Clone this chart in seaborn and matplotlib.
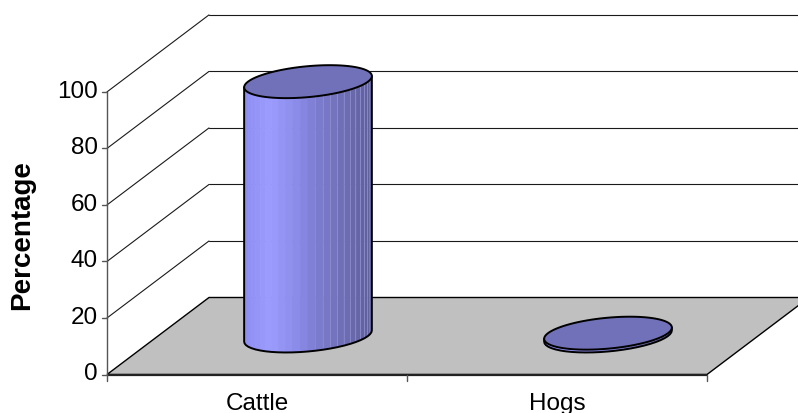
import numpy as np
import matplotlib
matplotlib.use("Agg")
import matplotlib.pyplot as plt
import seaborn as sns
from matplotlib.patches import Polygon

# Chart data
categories = ["Cattle", "Hogs"]
percentages = [90, 1]
y_ticks = [0, 20, 40, 60, 80, 100]
y_label = "Percentage"

sns.set_theme(style="white")
plt.rcParams["font.family"] = ["Liberation Sans", "DejaVu Sans"]

W, H = 798, 413
fig = plt.figure(figsize=(W / 100, H / 100), dpi=100)
ax = fig.add_axes([0, 0, 1, 1])
ax.set_xlim(0, W)
ax.set_ylim(H, 0)
ax.axis("off")

# Oblique 3-D frame: category position c, value v, depth d (0 front .. 1 back)
X0, CAT_W = 107, 300
Y0, UNIT = 374.5, 2.826
DX, DY = 102, 77


def proj(c, v, d):
    c, v, d = np.asarray(c, float), np.asarray(v, float), np.asarray(d, float)
    return X0 + CAT_W * c + DX * d, Y0 - UNIT * v - DY * d


n_cat = len(categories)
vmax = y_ticks[-1]

# Floor
fx, fy = proj([0, 0, n_cat, n_cat], [0, 0, 0, 0], [0, 1, 1, 0])
ax.add_patch(Polygon(np.c_[fx, fy], closed=True, facecolor="#C0C0C0",
                     edgecolor="black", lw=1.0, zorder=1))
fx, fy = proj([0, n_cat], [0, 0], [0, 0])
ax.plot(fx, fy, color="#222222", lw=1.6, zorder=2, solid_capstyle="butt")

# Gridlines on back and side walls
for v in y_ticks[1:]:
    bx, by = proj([0, n_cat], [v, v], [1, 1])
    ax.plot(bx, by, color="#1a1a1a", lw=0.8, zorder=1)
    sx, sy = proj([0, 0], [v, v], [0, 1])
    ax.plot(sx, sy, color="#1a1a1a", lw=0.8, zorder=1)

# Value axis with ticks and labels
ax_x, ax_y = proj([0, 0], [0, vmax], [0, 0])
ax.plot(ax_x, ax_y, color="#555555", lw=1.0, zorder=2)
for v in y_ticks:
    tx, ty = proj(0, v, 0)
    ax.plot([tx - 5, tx], [ty, ty], color="#555555", lw=1.0, zorder=2)
    ax.text(tx - 9, ty, f"{v}", ha="right", va="center", fontsize=17.5,
            color="black")

# Category ticks and labels
for i in range(n_cat + 1):
    tx, ty = proj(i, 0, 0)
    ax.plot([tx, tx], [ty, ty + 6], color="#555555", lw=1.0, zorder=2)
for i, name in enumerate(categories):
    tx, ty = proj(i + 0.5, 0, 0)
    ax.text(tx, 410, name, ha="center", va="baseline", fontsize=17.5,
            color="black")

ax.text(22, 235, y_label, rotation=90, ha="center", va="center",
        fontsize=20, fontweight="bold", color="black")

# Cylinders
rc, rd = 0.2, 0.214
alpha = np.arctan2(DX * rd, CAT_W * rc)
shade = sns.blend_palette(["#8e8ef0", "#9c9cff", "#8c8cea", "#7a7acb",
                           "#6c6cb2", "#5e5e98"], n_colors=256)
top_color = "#7171B9"


def ellipse(c, v, th):
    return proj(c + rc * np.cos(th), np.full_like(th, v), 0.5 + rd * np.sin(th))


for i, val in enumerate(percentages):
    c = i + 0.5
    n_fac = 26
    th = np.linspace(np.pi + alpha, 2 * np.pi + alpha, n_fac + 1)
    tx_, ty_ = ellipse(c, val, th)
    bx_, by_ = ellipse(c, 0, th)
    xmin, xmax = tx_.min(), tx_.max()
    for k in range(n_fac):
        xm = 0.5 * (tx_[k] + tx_[k + 1])
        f = (xm - xmin) / (xmax - xmin)
        col = shade[int(np.clip(f, 0, 1) * 255)]
        edge = col if f < 0.55 else "#8c8cd0"
        poly = np.array([[tx_[k], ty_[k]], [tx_[k + 1], ty_[k + 1]],
                         [bx_[k + 1], by_[k + 1]], [bx_[k], by_[k]]])
        ax.add_patch(Polygon(poly, closed=True, facecolor=col, edgecolor=edge,
                             lw=0.5, zorder=3))
    # outline of the body
    ox = np.r_[tx_[0], bx_, tx_[-1]]
    oy = np.r_[ty_[0], by_, ty_[-1]]
    ax.plot(ox, oy, color="black", lw=1.4, zorder=4, solid_joinstyle="round")
    # top face
    full = np.linspace(0, 2 * np.pi, 121)
    ex, ey = ellipse(c, val, full)
    ax.add_patch(Polygon(np.c_[ex, ey], closed=True, facecolor=top_color,
                         edgecolor="black", lw=1.4, zorder=5))

fig.savefig("out.png", dpi=100)
